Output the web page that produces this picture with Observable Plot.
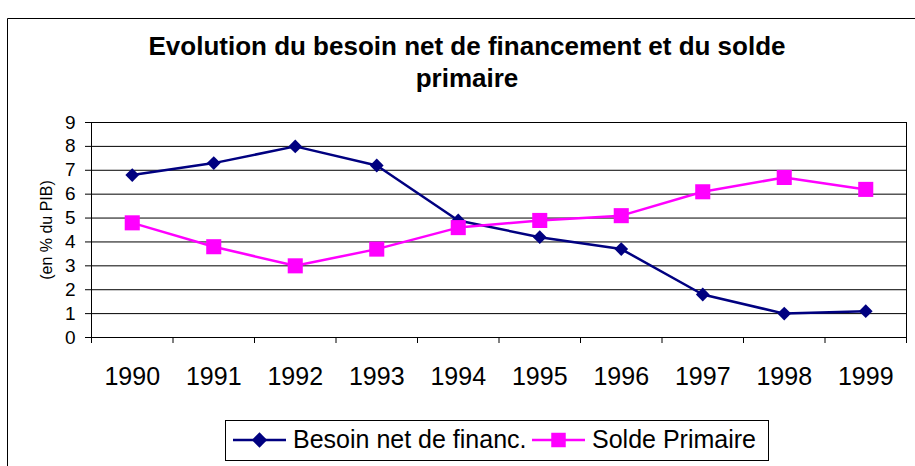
<!DOCTYPE html>
<html><head><meta charset="utf-8">
<script src="https://cdn.jsdelivr.net/npm/d3@7"></script>
<script src="https://cdn.jsdelivr.net/npm/@observablehq/plot@0.6"></script>
<style>
body{margin:0;background:#fff;}
#wrap{position:relative;width:915px;height:466px;overflow:hidden;font-family:"Liberation Sans",Arial,sans-serif;background:#fff;}
#wrap svg{position:absolute;left:0;top:0;}
</style></head><body><div id="wrap"></div>
<script>
const years = [1990, 1991, 1992, 1993, 1994, 1995, 1996, 1997, 1998, 1999];
const besoin = [6.8, 7.3, 8.0, 7.2, 4.9, 4.2, 3.7, 1.8, 1.0, 1.1];
const solde = [4.8, 3.8, 3.0, 3.7, 4.6, 4.9, 5.1, 6.1, 6.7, 6.2];
const yTicks = [0, 1, 2, 3, 4, 5, 6, 7, 8, 9];
const seriesNames = ["Besoin net de financ.", "Solde Primaire"];
const titleLines = ["Evolution du besoin net de financement et du solde", "primaire"];
const yLabel = "(en % du PIB)";

const NAVY = "#000080", MAGENTA = "#FF00FF";
const FONT = "Liberation Sans, Arial, sans-serif";

const rowsB = years.map((year, i) => ({year, value: besoin[i]}));
const rowsS = years.map((year, i) => ({year, value: solde[i]}));
const boundaries = [...years.map(y => y - 0.5), years[years.length - 1] + 0.5];
const x0 = boundaries[0], x1 = boundaries[boundaries.length - 1];

const chart = Plot.plot({
  width: 915, height: 466,
  marginLeft: 91, marginRight: 9, marginTop: 122, marginBottom: 129,
  style: {fontFamily: FONT, background: "transparent", color: "#000", overflow: "visible"},
  x: {domain: [x0, x1]},
  y: {domain: [0, 9]},
  marks: [
    Plot.gridY(yTicks.slice(1), {stroke: "#000", strokeOpacity: 1}),
    Plot.ruleY([0], {stroke: "#000"}),
    Plot.ruleX([x0, x1], {stroke: "#000"}),
    Plot.axisY(yTicks, {tickSize: 6, tickPadding: 10, fontSize: 19, label: null, tickFormat: d => String(d)}),
    Plot.axisX(boundaries, {tickSize: 6, tickFormat: () => "", label: null}),
    Plot.axisX(years, {tickSize: 0, tickPadding: 30, fontSize: 25, tickFormat: d => String(d), label: null}),
    Plot.text([yLabel], {frameAnchor: "left", dx: -45, rotate: -90, textAnchor: "middle", fontSize: 16, text: d => d, fill: "#000"}),
    Plot.line(rowsB, {x: "year", y: "value", stroke: NAVY, strokeWidth: 2.5}),
    Plot.dot(rowsB, {x: "year", y: "value", symbol: "diamond2", r: 6.2, fill: NAVY, stroke: "none"}),
    Plot.line(rowsS, {x: "year", y: "value", stroke: MAGENTA, strokeWidth: 2.5}),
    Plot.dot(rowsS, {x: "year", y: "value", symbol: "square", r: 8.5, fill: MAGENTA, stroke: "none"})
  ]
});
document.getElementById("wrap").appendChild(chart);

// Overlay: outer border, title, legend
const ov = d3.select("#wrap").append("svg")
  .attr("width", 915).attr("height", 466)
  .style("pointer-events", "none")
  .attr("font-family", FONT);

ov.append("path").attr("d", "M7.5,466V18.5H915").attr("fill", "none").attr("stroke", "#000").attr("stroke-width", 1);

ov.selectAll("text.title").data(titleLines).join("text")
  .attr("class", "title")
  .attr("x", 467).attr("y", (d, i) => 55 + i * 32)
  .attr("text-anchor", "middle").attr("font-size", 26).attr("font-weight", "bold")
  .text(d => d);

const lg = ov.append("g");
lg.append("rect").attr("x", 225.5).attr("y", 420.5).attr("width", 543).attr("height", 40)
  .attr("fill", "#fff").attr("stroke", "#000");
const items = [
  {name: seriesNames[0], color: NAVY, sym: d3.symbolDiamond2, size: 150, x: 233, tx: 293},
  {name: seriesNames[1], color: MAGENTA, sym: d3.symbolSquare, size: 210, x: 532, tx: 592}
];
items.forEach(it => {
  lg.append("line").attr("x1", it.x).attr("x2", it.x + 53).attr("y1", 440).attr("y2", 440)
    .attr("stroke", it.color).attr("stroke-width", 2.5);
  lg.append("path").attr("d", d3.symbol(it.sym, it.size)()).attr("transform", `translate(${it.x + 26.5},440)`)
    .attr("fill", it.color);
  lg.append("text").attr("x", it.tx).attr("y", 448).attr("font-size", 25).text(it.name);
});
</script>
</body></html>
